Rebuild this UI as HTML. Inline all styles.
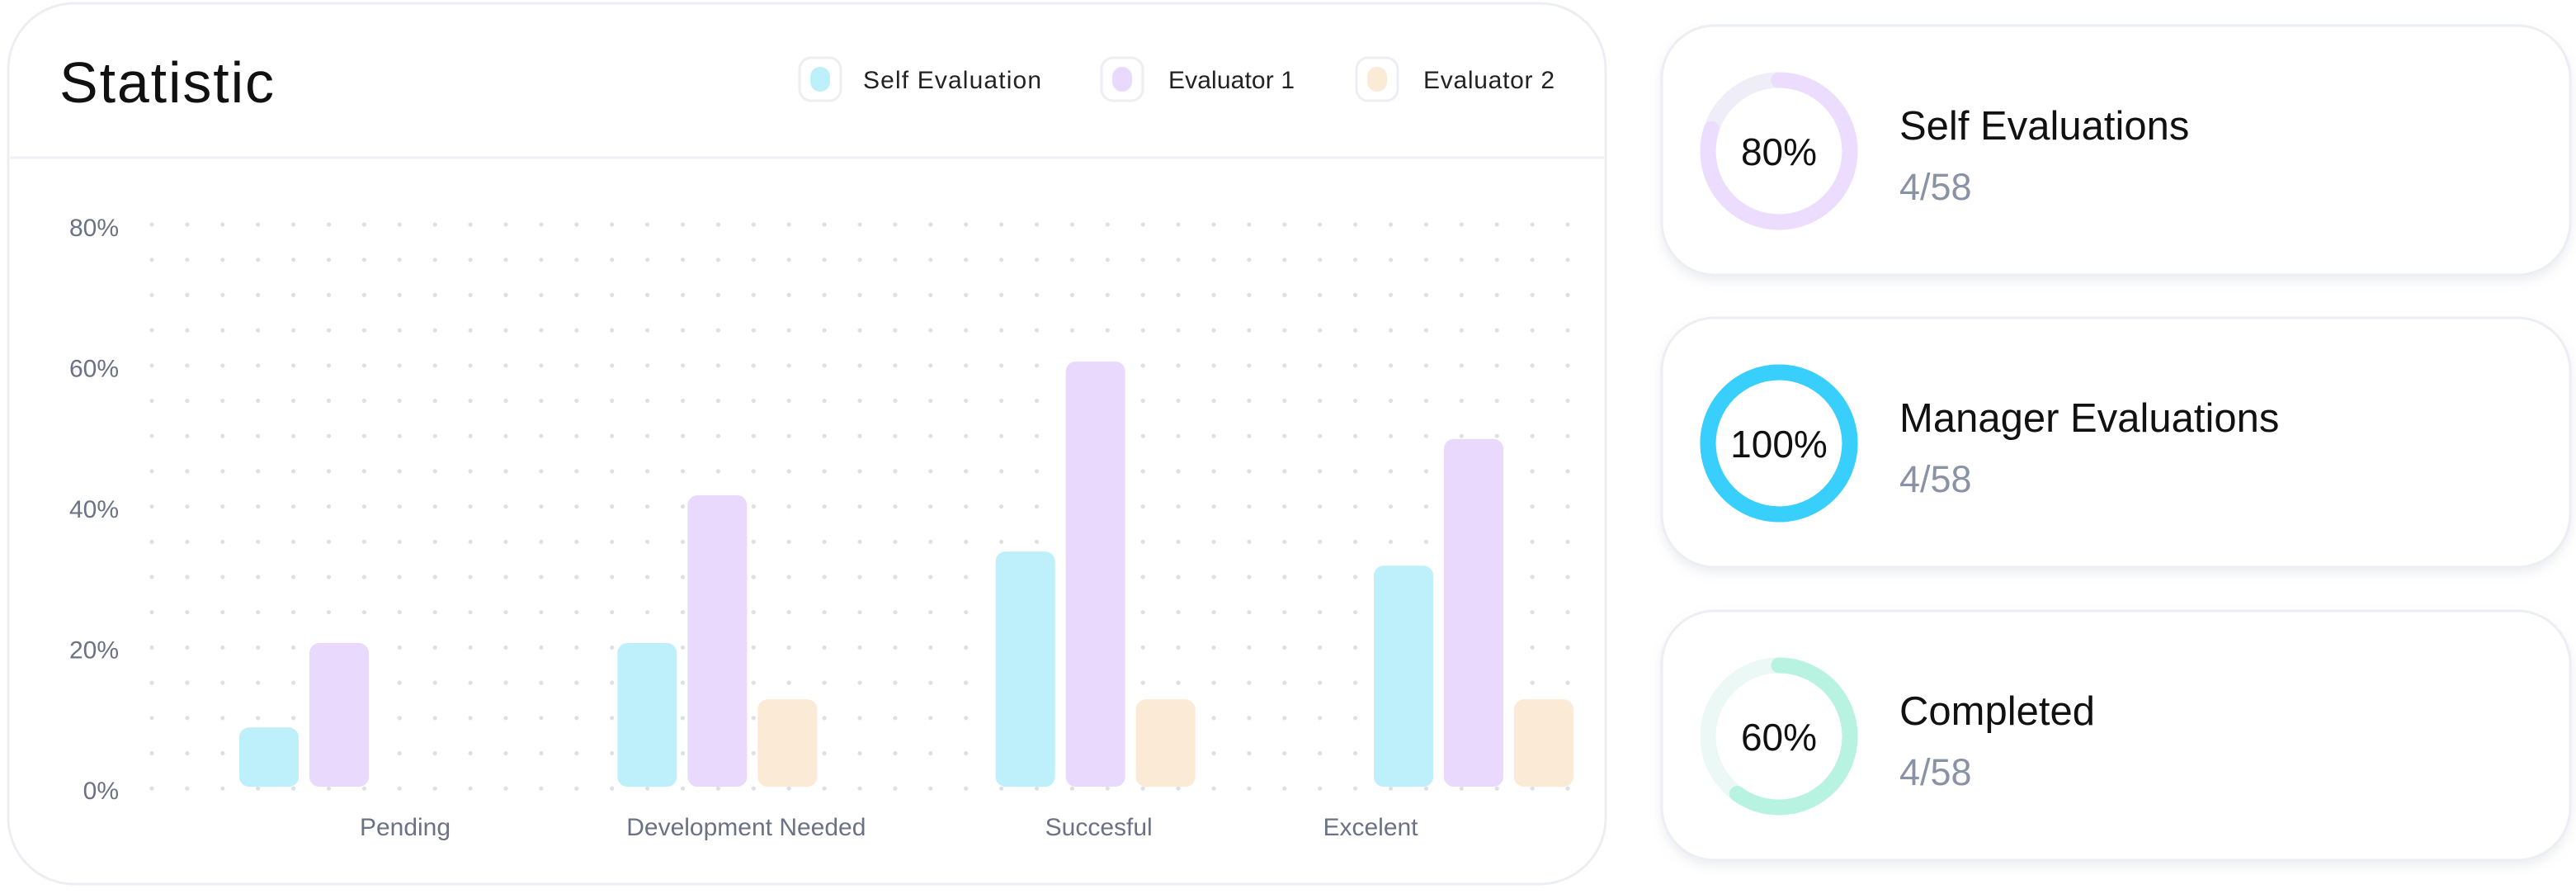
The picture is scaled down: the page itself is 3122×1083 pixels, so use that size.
<!DOCTYPE html>
<html><head><meta charset="utf-8"><style>
html,body{margin:0;padding:0;background:#fff;width:3122px;height:1083px;overflow:hidden}
svg{display:block;font-family:"Liberation Sans",sans-serif}
</style></head><body>
<svg id="root" width="3122" height="1083" viewBox="0 0 3122 1083" xmlns="http://www.w3.org/2000/svg">
<defs>
<filter id="sh" x="-5%" y="-10%" width="110%" height="130%"><feDropShadow dx="0" dy="6" stdDeviation="6" flood-color="#9aa0b4" flood-opacity="0.18"/></filter>
</defs>
<g>
<rect x="10" y="4" width="1936" height="1067" rx="80" fill="#fff" stroke="#eceef3" stroke-width="3"/>
<line x1="12" y1="191" x2="1944" y2="191" stroke="#f0f1f5" stroke-width="3"/>
<text x="72" y="124" font-size="70" fill="#111" textLength="260">Statistic</text>
<g>
<g><rect x="969" y="70" width="50" height="52" rx="14" fill="#fff" stroke="#eceef3" stroke-width="3"/><rect x="982" y="81" width="24" height="30" rx="12" fill="#bdf0fb"/><text x="1046" y="107" font-size="30" fill="#222" textLength="216">Self Evaluation</text></g>
<g><rect x="1335" y="70" width="50" height="52" rx="14" fill="#fff" stroke="#eceef3" stroke-width="3"/><rect x="1348" y="81" width="24" height="30" rx="12" fill="#e9d9fd"/><text x="1416" y="107" font-size="30" fill="#222" textLength="153">Evaluator 1</text></g>
<g><rect x="1644" y="70" width="50" height="52" rx="14" fill="#fff" stroke="#eceef3" stroke-width="3"/><rect x="1657" y="81" width="24" height="30" rx="12" fill="#fbead6"/><text x="1725" y="107" font-size="30" fill="#222" textLength="159">Evaluator 2</text></g>
</g>
<g id="grid"></g>
<g id="yaxis"></g>
<g id="bars"></g>
<g id="xaxis"></g>
</g>
<g id="cards"></g>
</svg>
<script>
const categories = ["Pending","Development Needed","Succesful","Excelent"];
const selfEval = [9, 21, 34, 32];
const evaluator1 = [21, 42, 61, 50];
const evaluator2 = [0, 13, 13, 13];
const yTicks = [0, 20, 40, 60, 80];
const yTickLabels = ["0%","20%","40%","60%","80%"];
const cardTitles = ["Self Evaluations","Manager Evaluations","Completed"];
const cardPercents = [80, 100, 60];
const cardCounts = ["4/58","4/58","4/58"];

const NS = "http://www.w3.org/2000/svg";
function mk(tag, attrs, parent){const e=document.createElementNS(NS,tag);for(const k in attrs)e.setAttribute(k,attrs[k]);parent.appendChild(e);return e;}
const y0=958, yTop=276;
function y(v){return y0-(v/80)*(y0-yTop);}
const firstC=411, lastC=1786;
function xc(i){return firstC+i*(lastC-firstC)/(categories.length-1);}
const bw=72, gap=13;

const grid=document.getElementById('grid');
for(let r=0;r<17;r++){for(let c=0;c<41;c++){
  const d=mk('circle',{cx:184+c*42.9,cy:272+r*42.7,r:2.6,fill:'#dfe0e6'},grid);
  
  
}}
const ya=document.getElementById('yaxis');
yTicks.forEach((t,i)=>{
  const tx=mk('text',{x:144,y:y(t)+10,'font-size':30,fill:'#6b7284','text-anchor':'end'},ya);
  tx.textContent=yTickLabels[i];
  
  
});
const bg=document.getElementById('bars');
const series=[[selfEval,'#bdf0fb','self'],[evaluator1,'#e9d9fd','eval1'],[evaluator2,'#fbead6','eval2']];
categories.forEach((c,i)=>{
  const left=xc(i)-(3*bw+2*gap)/2;
  series.forEach((s,j)=>{
    const v=s[0][i]; if(v<=0) return;
    const top=y(v), bot=953;
    const b=mk('rect',{x:left+j*(bw+gap),y:top,width:bw,height:bot-top,rx:12,fill:s[1]},bg);
    
    
  });
  const lb=mk('text',{x:xc(i)+[80,35,4,-125][i],y:1012,'font-size':30,fill:'#6b7284','text-anchor':'middle'},document.getElementById('xaxis'));
  lb.textContent=c;
  
  
});
const cg=document.getElementById('cards');
const cardTops=[31,385,740];
const ringCol=[['#eeedf8','#ecdcfd'],['#38cffd','#38cffd'],['#ebf8f5','#b8f2e0']];
cardTitles.forEach((t,i)=>{
  const g=mk('g',{},cg);
  
  
  mk('rect',{x:2014,y:cardTops[i],width:1101,height:302,rx:64,fill:'#fff',stroke:'#eceef3','stroke-width':3,filter:'url(#sh)'},g);
  const cx=2156, cy=cardTops[i]+152, r=86, C=2*Math.PI*r;
  mk('circle',{cx:cx,cy:cy,r:r,fill:'none',stroke:ringCol[i][0],'stroke-width':19},g);
  const p=mk('circle',{cx:cx,cy:cy,r:r,fill:'none',stroke:ringCol[i][1],'stroke-width':19,'stroke-linecap':'round','stroke-dasharray':(C*cardPercents[i]/100)+' '+C,transform:'rotate(-90 '+cx+' '+cy+')'},g);
  
  
  const pt=mk('text',{x:cx,y:cy+17,'font-size':46,fill:'#111','text-anchor':'middle'},g);
  pt.textContent=cardPercents[i]+'%';
  
  
  const tt=mk('text',{x:2302,y:cardTops[i]+138,'font-size':49,fill:'#111'},g);
  tt.textContent=t;
  
  
  const ct=mk('text',{x:2302,y:cardTops[i]+211,'font-size':45,fill:'#8a93a6'},g);
  ct.textContent=cardCounts[i];
  
  
});
</script>
</body></html>
